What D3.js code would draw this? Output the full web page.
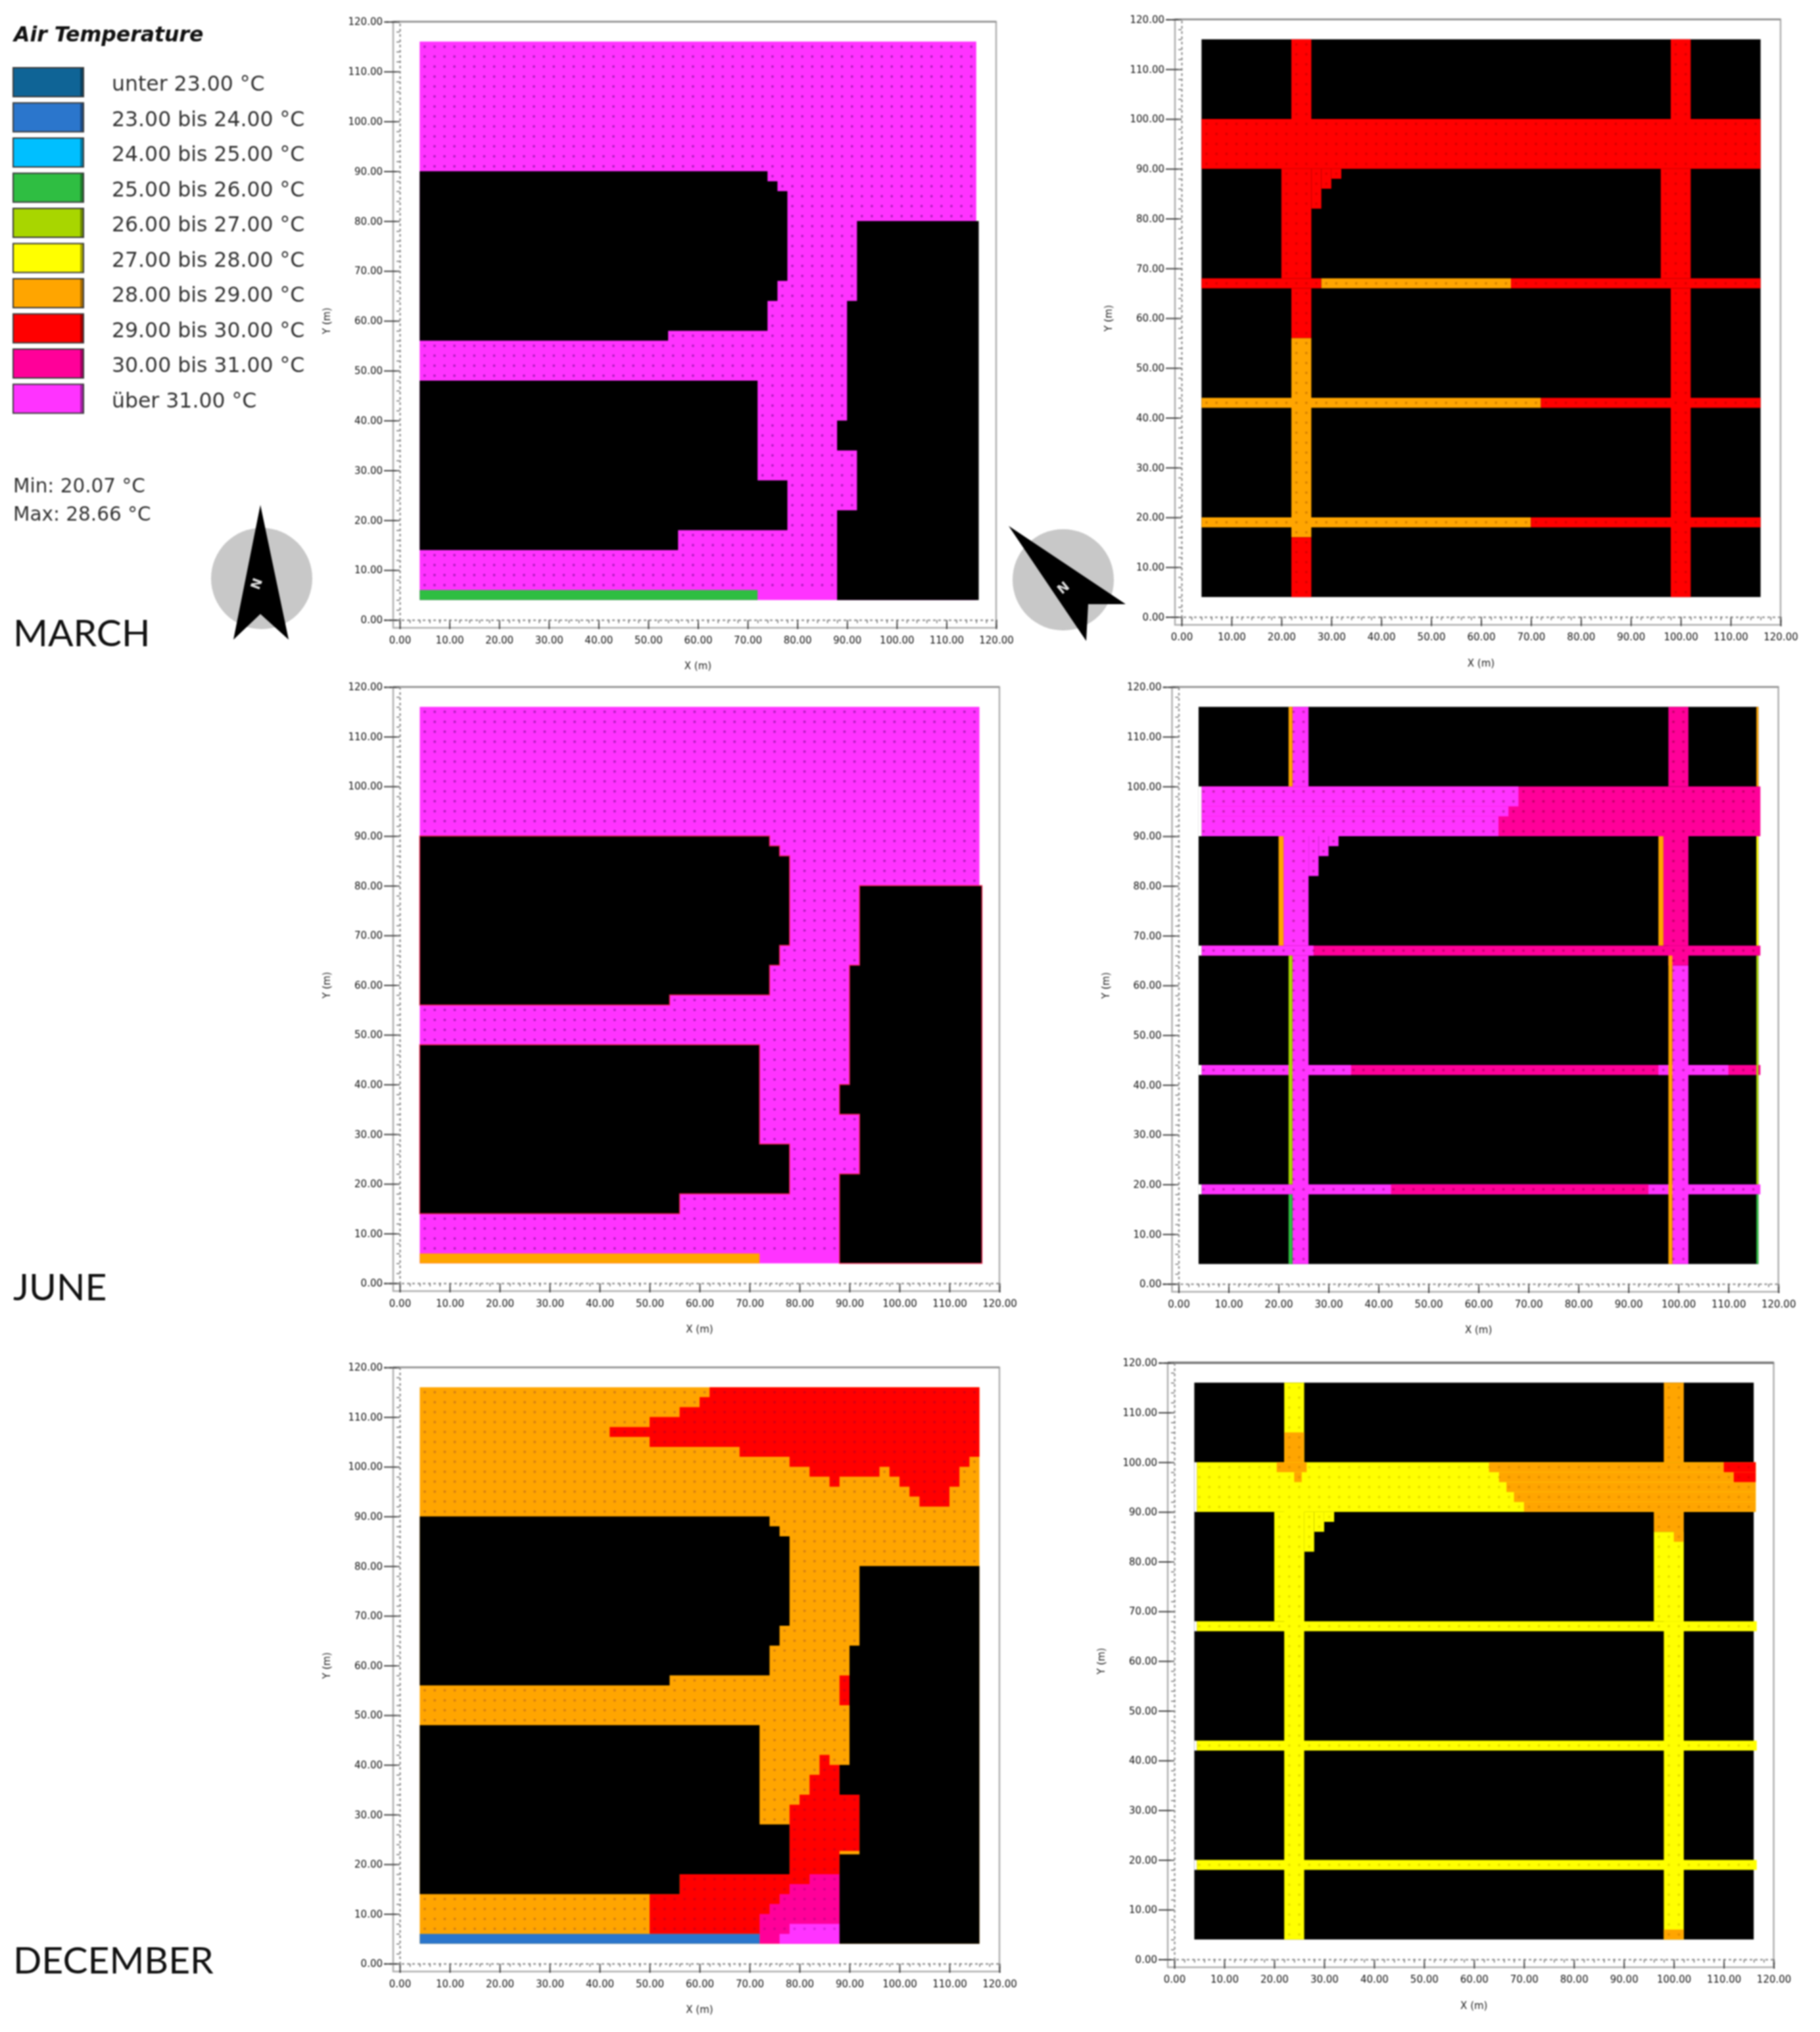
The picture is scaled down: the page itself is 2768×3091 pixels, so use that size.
<!DOCTYPE html>
<html><head><meta charset="utf-8">
<script src="https://cdn.jsdelivr.net/npm/d3@7"></script>
<style>
html,body{margin:0;padding:0;background:#fff;}
svg{display:block;filter:blur(1.3px);}
text{font-family:"DejaVu Sans",sans-serif;}
</style></head>
<body>
<script>
// ---------- DATA (metres / temperature class indices) ----------
const legendLabels = ["unter 23.00 °C","23.00 bis 24.00 °C","24.00 bis 25.00 °C","25.00 bis 26.00 °C","26.00 bis 27.00 °C","27.00 bis 28.00 °C","28.00 bis 29.00 °C","29.00 bis 30.00 °C","30.00 bis 31.00 °C","über 31.00 °C"];
const legendTitle = "Air Temperature";
const minMaxLabels = ["Min: 20.07 °C","Max: 28.66 °C"];
const monthLabels = ["MARCH","JUNE","DECEMBER"];
const axisTicks = [0,10,20,30,40,50,60,70,80,90,100,110,120];
const minorTicks = d3.range(0,121,2);
const cellCentres = d3.range(5,116,2);

const T_GREEN=3,T_OLIVE=4,T_YELLOW=5,T_ORANGE=6,T_RED=7,T_PINK=8,T_MAGENTA=9,T_BLUE=1,T_NONE=10;

// West-facing model: building outlines, shared by the three months
const buildingNorth = [[4,90],[74,90],[74,88],[76,88],[76,86],[78,86],[78,68],[76,68],[76,64],[74,64],[74,58],[54,58],[54,56],[4,56]];
const buildingSouth = [[4,48],[72,48],[72,28],[78,28],[78,18],[56,18],[56,14],[4,14]];
const buildingEast = [[92,80],[116,80],[116,4],[88,4],[88,22],[92,22],[92,34],[88,34],[88,40],[90,40],[90,64],[92,64]];
const buildingEastWide = [[92,80],[116.5,80],[116.5,4],[88,4],[88,22],[92,22],[92,34],[88,34],[88,40],[90,40],[90,64],[92,64]];
const fieldOutline = [[4,4],[116,4],[116,116],[4,116]];
const southStrip = [[4,4],[72,4],[72,6],[4,6]];

const decNorthRed = [[62,116],[116,116],[116,102],[114,102],[114,100],[112,100],[112,96],[110,96],[110,92],[104,92],[104,94],[102,94],[102,96],[100,96],[100,98],[98,98],[98,100],[96,100],[96,98],[88,98],[88,96],[86,96],[86,98],[82,98],[82,100],[78,100],[78,102],[68,102],[68,104],[50,104],[50,106],[42,106],[42,108],[50,108],[50,110],[56,110],[56,112],[60,112],[60,114],[62,114]];
const decSmallRed = [[88,52],[90,52],[90,58],[88,58]];
const decSouthRed = [[50,6],[50,14],[56,14],[56,18],[78,18],[78,32],[80,32],[80,34],[82,34],[82,38],[84,38],[84,42],[86,42],[86,40],[88,40],[88,34],[92,34],[92,22.7],[88,22.7],[88,6]];
const decPink = [[72,4],[72,10],[74,10],[74,12],[76,12],[76,14],[78,14],[78,16],[82,16],[82,18],[88,18],[88,4]];
const decMagenta = [[76,4],[76,6],[78,6],[78,8],[88,8],[88,4]];

const marchWestRegions = [[T_MAGENTA,fieldOutline],[T_GREEN,southStrip]];
const juneWestRegions = [[T_MAGENTA,fieldOutline],[T_ORANGE,southStrip]];
const decemberWestRegions = [[T_ORANGE,fieldOutline],[T_RED,decNorthRed],[T_RED,decSmallRed],[T_RED,decSouthRed],[T_PINK,decPink],[T_MAGENTA,decMagenta],[T_BLUE,southStrip]];

// North-facing model: street patches [x0,x1,y0,y1,class]
const marchEastStreets = [
 [4,116,90,100,T_RED],[22,26,100,116,T_RED],[98,102,100,116,T_RED],[20,26,68,90,T_RED],[26,28,82,90,T_RED],[28,30,86,90,T_RED],[30,32,88,90,T_RED],[96,102,68,90,T_RED],
 [4,28,66,68,T_RED],[28,66,66,68,T_ORANGE],[66,116,66,68,T_RED],
 [4,72,42,44,T_ORANGE],[72,116,42,44,T_RED],[4,70,18,20,T_ORANGE],[70,116,18,20,T_RED],
 [22,26,56,66,T_RED],[22,26,16,56,T_ORANGE],[22,26,4,16,T_RED],[98,102,4,66,T_RED]];
const juneEastStreets = [
 [4.6,116.4,90,100,T_PINK],[4.6,68,96,100,T_MAGENTA],[4.6,66,94,96,T_MAGENTA],[4.6,64,90,94,T_MAGENTA],
 [4.6,116.4,66,68,T_PINK],[4.6,27,66,68,T_MAGENTA],
 [4.6,116.4,42,44,T_PINK],[4.6,34.5,42,44,T_MAGENTA],[96,110,42,44,T_MAGENTA],
 [4.6,116.4,18,20,T_MAGENTA],[42.5,94,18,20,T_PINK],
 [22.8,26,100,116,T_MAGENTA],[22,22.8,100,116,T_ORANGE],
 [21,26,68,90,T_MAGENTA],[20,21,68,90,T_ORANGE],[26,28,82,90,T_MAGENTA],[28,30,86,90,T_MAGENTA],[30,32,88,90,T_MAGENTA],
 [22.8,26,4,66,T_MAGENTA],[22,22.8,20,66,T_OLIVE],[22,22.8,4,18,T_GREEN],
 [98,102,100,116,T_PINK],[97,102,68,90,T_PINK],[96,97,68,90,T_ORANGE],[98,102,64,68,T_PINK],
 [98.8,102,4,64,T_MAGENTA],[98,98.8,4,66,T_ORANGE],
 [115.6,116,100,116,T_ORANGE],[115.6,116,68,90,T_YELLOW],[115.6,116,20,66,T_OLIVE],[115.6,116,4,18,T_GREEN],
 [4,4.6,90,100,T_NONE],[4,4.6,66,68,T_NONE],[4,4.6,42,44,T_NONE],[4,4.6,18,20,T_NONE]];
const decemberEastStreets = [
 [4.5,116.4,90,100,T_YELLOW],[4.5,116.6,66,68,T_YELLOW],[4.5,116.6,42,44,T_YELLOW],[4.5,116.6,18,20,T_YELLOW],
 [22,26,4,116,T_YELLOW],[20,26,68,90,T_YELLOW],[26,28,82,90,T_YELLOW],[28,30,86,90,T_YELLOW],[30,32,88,90,T_YELLOW],
 [98,102,4,68,T_YELLOW],[96,102,68,86,T_YELLOW],
 [22,26,100,106,T_ORANGE],[20.5,26.5,98,100,T_ORANGE],[24,25.5,96,98,T_ORANGE],
 [63,116.4,98,100,T_ORANGE],[65,116.4,96,98,T_ORANGE],[66.5,116.4,94,96,T_ORANGE],[68,116.4,92,94,T_ORANGE],[70,116.4,90,92,T_ORANGE],
 [98,102,100,116,T_ORANGE],[96,102,86,90,T_ORANGE],[100,102,84,86,T_ORANGE],[98,102,4,6,T_ORANGE],
 [110,116.4,98,100,T_RED],[112,116.4,96,98,T_RED],
 [4,4.5,90,100,T_NONE],[4,4.5,66,68,T_NONE],[4,4.5,42,44,T_NONE],[4,4.5,18,20,T_NONE]];

// ---------- STYLE / LAYOUT ----------
const classColors = ["#0f6496","#2b76cc","#00bfff","#2fbe42","#a8d600","#ffff00","#ffa500","#ff0000","#ff0099","#ff33ff","#ffffff"];
const W=2768,H=3091;
const svg=d3.select("body").append("svg").attr("width",W).attr("height",H).attr("viewBox",[0,0,W,H]);
svg.append("rect").attr("width",W).attr("height",H).attr("fill","#fff");

function makeFrame(f){
  const g=svg.append("g");
  const x=d3.scaleLinear().domain([0,120]).range([f.x0,f.x1]);
  const y=d3.scaleLinear().domain([0,120]).range([f.y0,f.y1]);
  g.append("rect").attr("x",f.x0-10).attr("y",f.y1).attr("width",f.x1-f.x0+10).attr("height",f.y0-f.y1+12)
   .attr("fill","#fff").attr("stroke","#b0b0b0").attr("stroke-width",2.5);
  g.append("line").attr("x1",f.x0-10).attr("x2",f.x1).attr("y1",f.y1).attr("y2",f.y1).attr("stroke",f.top||"#909090").attr("stroke-width",f.top?3.5:2.5);
  return {g,x,y};
}
function drawAxes(p,f){
  const {g,x,y}=p;
  const fmt=d3.format(".2f");
  const ax=g.append("g").attr("transform",`translate(0,${f.y0})`).call(d3.axisBottom(x).tickValues(axisTicks).tickFormat(fmt).tickSize(14).tickPadding(11));
  const ay=g.append("g").attr("transform",`translate(${f.x0},0)`).call(d3.axisLeft(y).tickValues(axisTicks).tickFormat(fmt).tickSize(24).tickPadding(2));
  [ax,ay].forEach(a=>{a.select(".domain").attr("stroke","#999").attr("stroke-dasharray","4 4").attr("stroke-width",2.5);
    a.selectAll(".tick line").attr("stroke","#444").attr("stroke-width",2);
    a.selectAll("text").attr("fill","#111").style("font-size","15px").style("font-weight","500").style("font-family","'DejaVu Sans',sans-serif");});
  g.append("g").attr("transform",`translate(0,${f.y0})`).call(d3.axisBottom(x).tickValues(minorTicks).tickFormat("").tickSize(5))
   .call(s=>{s.select(".domain").remove();s.selectAll("line").attr("stroke","#777").attr("stroke-width",1.5);});
  g.append("g").attr("transform",`translate(${f.x0},0)`).call(d3.axisLeft(y).tickValues(minorTicks).tickFormat("").tickSize(5))
   .call(s=>{s.select(".domain").remove();s.selectAll("line").attr("stroke","#777").attr("stroke-width",1.5);});
  g.append("text").attr("x",x(60)).attr("y",f.y0+75).attr("text-anchor","middle").attr("font-size",15).attr("fill","#222").text("X (m)");
  g.append("text").attr("transform",`translate(${f.x0-106},${y(60)}) rotate(-90)`).attr("text-anchor","middle").attr("font-size",15).attr("fill","#222").text("Y (m)");
}
function dotsPath(x,y,test){
  const path=d3.path();
  cellCentres.forEach(cx=>cellCentres.forEach(cy=>{
    if(test(cx,cy)){path.moveTo(x(cx)+2,y(cy));path.arc(x(cx),y(cy),2,0,2*Math.PI);}
  }));
  return path.toString();
}
function westPanel(f,regions,eastBlock,edge){
  const p=makeFrame(f),{g,x,y}=p;
  const line=d3.line().x(d=>x(d[0])).y(d=>y(d[1]));
  g.append("g").selectAll("path").data(regions).join("path")
    .attr("d",d=>line(d[1])+"Z").attr("fill",d=>classColors[d[0]]);
  g.append("path").attr("d",dotsPath(x,y,(cx,cy)=>cy>6)).attr("fill","#400060").attr("opacity",f.dots);
  g.append("g").selectAll("path").data([buildingNorth,buildingSouth,eastBlock]).join("path")
    .attr("d",d=>line(d)+"Z").attr("fill","#000").attr("stroke",edge||"none").attr("stroke-width",edge?1.5:0);
  drawAxes(p,f);
}
function eastPanel(f,streets){
  const p=makeFrame(f),{g,x,y}=p;
  g.append("rect").attr("x",x(4)).attr("y",y(116)).attr("width",x(116)-x(4)).attr("height",y(4)-y(116)).attr("fill","#000");
  g.append("g").selectAll("rect").data(streets).join("rect")
    .attr("x",d=>x(d[0])).attr("width",d=>x(d[1])-x(d[0]))
    .attr("y",d=>y(d[3])).attr("height",d=>y(d[2])-y(d[3]))
    .attr("fill",d=>classColors[d[4]]);
  const inStreet=(cx,cy)=>streets.some(s=>s[4]!==T_NONE&&cx>s[0]&&cx<s[1]&&cy>s[2]&&cy<s[3]);
  g.append("path").attr("d",dotsPath(x,y,inStreet)).attr("fill","#400000").attr("opacity",f.dots);
  drawAxes(p,f);
}
westPanel({x0:608,x1:1515,y0:943,y1:33,dots:.4},marchWestRegions,buildingEastWide);
eastPanel({x0:1797,x1:2708,y0:938.5,y1:29.5,dots:.2},marchEastStreets);
westPanel({x0:608,x1:1520,y0:1952,y1:1045,dots:.4},juneWestRegions,buildingEastWide,"#e8204a");
eastPanel({x0:1792.5,x1:2704.7,y0:1953,y1:1045,dots:.3},juneEastStreets);
westPanel({x0:608,x1:1520,y0:2987,y1:2080,dots:.22},decemberWestRegions,buildingEast);
eastPanel({x0:1786,x1:2697.6,y0:2980.5,y1:2073,top:"#777",dots:.13},decemberEastStreets);

// ---------- LEGEND ----------
const legend=svg.append("g");
legend.append("text").attr("x",21).attr("y",63).attr("font-size",31.5).attr("font-weight","bold").attr("font-style","italic").attr("fill","#111").text(legendTitle);
const rows=legend.selectAll("g.row").data(legendLabels).join("g").attr("class","row").attr("transform",(d,i)=>`translate(0,${103+53.5*i})`);
rows.append("rect").attr("x",20).attr("y",0).attr("width",107).attr("height",44).attr("fill",(d,i)=>classColors[i]).attr("stroke","#3a3a3a").attr("stroke-width",2);
rows.append("rect").attr("x",122).attr("y",1).attr("width",4).attr("height",42).attr("fill","#000").attr("opacity",.35);
rows.append("text").attr("x",170).attr("y",35).attr("font-size",31.5).attr("fill","#333").text(d=>d);
legend.selectAll("text.mm").data(minMaxLabels).join("text").attr("class","mm").attr("x",20).attr("y",(d,i)=>749+43*i).attr("font-size",29.5).attr("fill","#333").text(d=>d);
svg.selectAll("text.month").data(monthLabels).join("text").attr("class","month")
  .attr("x",20).attr("y",(d,i)=>[983,1978,3002][i]).attr("font-size",57).attr("fill","#111").style("font-family","Lato,sans-serif").text(d=>d);

// ---------- NORTH ARROWS ----------
function compass(cx,cy,pts,nx,ny,rot){
  const g=svg.append("g");
  g.append("ellipse").attr("cx",cx).attr("cy",cy).attr("rx",77).attr("ry",77).attr("fill","#c8c8c8");
  g.append("path").attr("d",d3.line()(pts)+"Z").attr("fill","#000");
  g.append("text").attr("transform",`translate(${nx},${ny}) rotate(${rot})`).attr("text-anchor","middle").attr("dy",7).attr("font-size",20).attr("font-weight","bold").attr("fill","#ddd").text("N");
}
compass(398,880,[[396,768],[439,973],[396,934],[355,973]],390,888,-70);
compass(1617,882,[[1534,800],[1712,919],[1655,919],[1652,975]],1617,894,-40);
</script>
</body></html>
